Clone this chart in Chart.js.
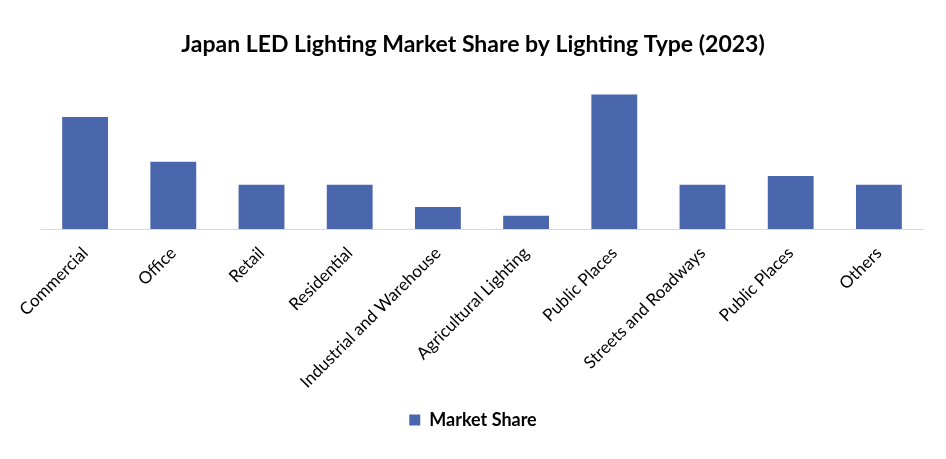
<!DOCTYPE html>
<html>
<head>
<meta charset="utf-8">
<script src="https://cdn.jsdelivr.net/npm/chart.js@4"></script>
<style>
html,body{margin:0;padding:0;background:#fff;}
#wrap{width:946px;height:459px;}
</style>
</head>
<body>
<div id="wrap"><canvas id="c" width="946" height="459"></canvas></div>
<script>
const categories = ["Commercial","Office","Retail","Residential","Industrial and Warehouse","Agricultural Lighting","Public Places","Streets and Roadways","Public Places","Others"];
const marketShare = [25.3, 15.2, 10, 10, 5, 3, 30.4, 10, 12, 10];
const seriesName = "Market Share";
const chartTitle = "Japan LED Lighting Market Share by Lighting Type (2023)";

new Chart(document.getElementById('c'), {
  type: 'bar',
  data: {
    labels: categories,
    datasets: [{
      label: seriesName,
      data: marketShare,
      backgroundColor: '#4a67ae',
      barPercentage: 0.52,
      categoryPercentage: 1
    }]
  },
  options: {
    responsive: false,
    animation: false,
    layout: { padding: { left: 23, right: 23, top: 27, bottom: 20 } },
    plugins: {
      title: {
        display: true,
        text: chartTitle,
        color: '#000',
        font: { family: 'Lato', size: 23, weight: 'bold' },
        padding: { top: 4, bottom: 20 }
      },
      legend: {
        position: 'bottom',
        labels: {
          color: '#000',
          font: { family: 'Lato', size: 18, weight: 'bold' },
          boxWidth: 11, boxHeight: 11,
          padding: 13
        }
      },
      tooltip: { enabled: false }
    },
    scales: {
      x: {
        grid: { display: false },
        border: { display: true, color: '#d9d9d9', width: 1 },
        ticks: {
          color: '#000',
          font: { family: 'Lato', size: 17 },
          minRotation: 45, maxRotation: 45,
          padding: 6
        }
      },
      y: {
        display: true,
        min: 0,
        max: 34,
        grid: { display: false },
        border: { display: false },
        ticks: { display: false },
        afterFit: function (scale) { scale.width = 18; }
      }
    }
  }
});
</script>
</body>
</html>
